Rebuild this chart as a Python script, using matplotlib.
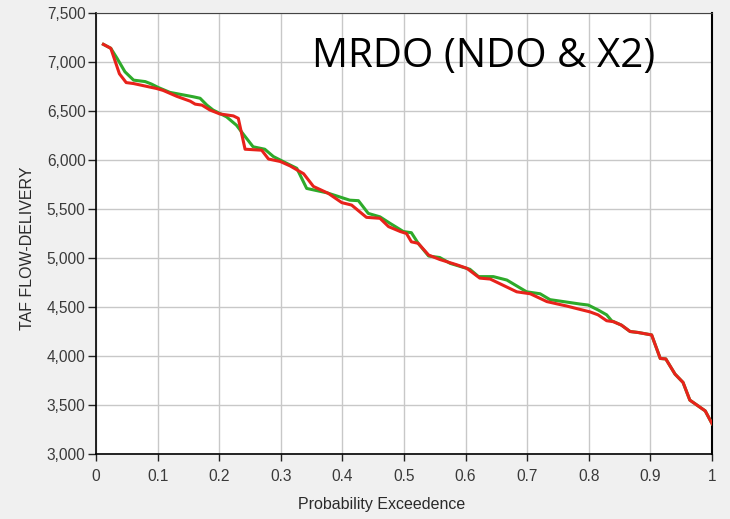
import matplotlib.pyplot as plt
from matplotlib.ticker import FuncFormatter, MultipleLocator

# values
x_green = [0.012, 0.024, 0.034, 0.047, 0.061, 0.080, 0.090, 0.101, 0.120, 0.158,
           0.169, 0.180, 0.190, 0.212, 0.228, 0.242, 0.255, 0.274, 0.288, 0.310,
           0.326, 0.342, 0.375, 0.412, 0.426, 0.442, 0.461, 0.477, 0.499, 0.512,
           0.523, 0.540, 0.558, 0.575, 0.596, 0.607, 0.621, 0.645, 0.667, 0.699,
           0.721, 0.737, 0.759, 0.786, 0.799, 0.815, 0.829, 0.837, 0.853, 0.867,
           0.880, 0.902, 0.916, 0.925, 0.940, 0.953, 0.964, 0.989, 1.0]
y_green = [7180, 7140, 7040, 6900, 6815, 6800, 6775, 6740, 6690, 6645,
           6630, 6560, 6510, 6440, 6355, 6240, 6135, 6110, 6035, 5965,
           5915, 5710, 5665, 5590, 5585, 5455, 5420, 5355, 5270, 5258,
           5150, 5020, 5005, 4945, 4905, 4885, 4810, 4810, 4775, 4655,
           4635, 4575, 4555, 4530, 4520, 4470, 4420, 4360, 4315, 4250,
           4240, 4215, 3975, 3970, 3815, 3730, 3550, 3440, 3310]

x_red = [0.012, 0.024, 0.038, 0.049, 0.061, 0.098, 0.109, 0.131, 0.153, 0.161,
         0.172, 0.185, 0.201, 0.212, 0.223, 0.231, 0.242, 0.269, 0.280, 0.299,
         0.315, 0.337, 0.353, 0.377, 0.399, 0.415, 0.439, 0.461, 0.475, 0.494,
         0.504, 0.512, 0.523, 0.540, 0.558, 0.586, 0.602, 0.623, 0.640, 0.683,
         0.705, 0.732, 0.764, 0.786, 0.802, 0.815, 0.829, 0.840, 0.853, 0.867,
         0.880, 0.902, 0.916, 0.925, 0.940, 0.953, 0.964, 0.989, 1.0]
y_red = [7180, 7140, 6880, 6790, 6780, 6730, 6710, 6650, 6600, 6570,
         6560, 6510, 6470, 6460, 6450, 6425, 6110, 6100, 6010, 5985,
         5940, 5860, 5730, 5660, 5565, 5540, 5415, 5405, 5320, 5270,
         5250, 5165, 5150, 5030, 4985, 4930, 4895, 4795, 4785, 4655,
         4635, 4555, 4510, 4475, 4450, 4420, 4360, 4350, 4315, 4250,
         4240, 4215, 3975, 3970, 3815, 3730, 3550, 3440, 3310]

title = "MRDO (NDO & X2)"

plt.rcParams['font.family'] = ['Liberation Sans', 'DejaVu Sans']

fig = plt.figure(figsize=(7.30, 5.19), dpi=100)
fig.patch.set_facecolor('#f0f0f0')
ax = fig.add_axes([96 / 730, 1 - 454 / 519, 616 / 730, 441 / 519])
ax.set_facecolor('white')

ax.plot(x_green, y_green, color='#2eaa2a', lw=2.2, zorder=3)
ax.plot(x_red, y_red, color='#e8221b', lw=2.2, zorder=4)

ax.set_xlim(0, 1)
ax.set_ylim(3000, 7500)
ax.xaxis.set_major_locator(MultipleLocator(0.1))
ax.yaxis.set_major_locator(MultipleLocator(500))
ax.xaxis.set_major_formatter(FuncFormatter(lambda v, p: '0' if v == 0 else ('1' if abs(v - 1) < 1e-9 else f'{v:.1f}')))
ax.yaxis.set_major_formatter(FuncFormatter(lambda v, p: f'{v:,.0f}'))
ax.grid(True, color='#c8c8c8', lw=1.0)
ax.set_axisbelow(True)

ax.tick_params(direction='out', width=1, colors='#222222', labelsize=11.2, labelcolor='#3a3a3a')
ax.tick_params(axis='y', length=6, pad=1.5)
ax.tick_params(axis='x', length=5, pad=6)
for side in ['left', 'bottom']:
    ax.spines[side].set_color('black')
    ax.spines[side].set_linewidth(1.2)
ax.spines['top'].set_color('#444444')
ax.spines['right'].set_color('black')
ax.spines['right'].set_linewidth(1.5)

fig.text(381.5 / 730, 1 - 509 / 519, 'Probability Exceedence', fontsize=11.5, color='#2a2a2a',
         ha='center', va='baseline')
fig.text(27.5 / 730, 1 - 248 / 519, 'TAF FLOW-DELIVERY', fontsize=11.5, color='#2a2a2a',
         ha='center', va='center', rotation=90)

ax.text(0.351, 6950, title, fontsize=29, family=['Open Sans', 'DejaVu Sans'], color='black',
        va='baseline', ha='left')

plt.savefig('out.png', dpi=100, facecolor=fig.get_facecolor())
